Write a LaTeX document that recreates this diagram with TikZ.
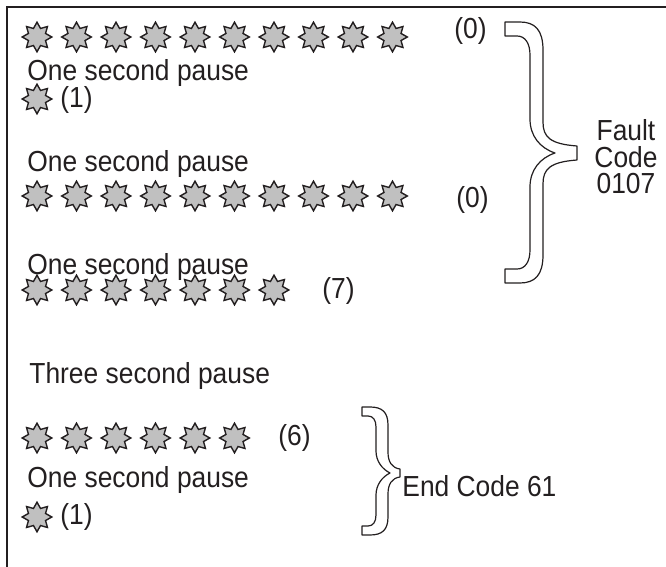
\documentclass[tikz,border=0pt]{standalone}
\usepackage{fontspec}
\setmainfont{Liberation Sans}[FakeStretch=0.91]
\usetikzlibrary{shapes.geometric}

\definecolor{ink}{RGB}{35,31,32}
\definecolor{flashgray}{RGB}{192,192,192}

\begin{document}
\begin{tikzpicture}[
    x=0.5pt, y=-0.5pt,
    flash/.style={star, star points=8, star point ratio=1.6, draw=ink,
                  fill=flashgray, line width=0.7pt, minimum size=14.8pt,
                  inner sep=0pt},
    lbl/.style={text=ink, inner sep=0pt, font=\fontsize{14.5}{13.2}\selectfont},
    brace/.style={draw=ink, fill=white, line width=0.6pt, line join=round}
]
\useasboundingbox (0,0) rectangle (666,567);

% frame (only top and left edges show)
\draw[ink, line width=1pt] (7,567) -- (7,7) -- (666,7);

% fault code 0107
\foreach \i in {1,...,10}
    \node[flash] (a\i) at ({37+39.5*(\i-1)},37) {};
\node[lbl, anchor=west]      (cnta)   at (454,31)  {(0)};
\node[lbl, anchor=base west] (pausea) at (27,81)   {One second pause};
\node[flash]                 (b1)     at (37,99)   {};
\node[lbl, anchor=west]      (cntb)   at (60,100)  {(1)};
\node[lbl, anchor=base west] (pauseb) at (27,172)  {One second pause};
\foreach \i in {1,...,10}
    \node[flash] (c\i) at ({37+39.5*(\i-1)},196) {};
\node[lbl, anchor=west]      (cntc)   at (456,200) {(0)};
\node[lbl, anchor=base west] (pausec) at (27,275)  {One second pause};
\foreach \i in {1,...,7}
    \node[flash] (d\i) at ({37+39.5*(\i-1)},290) {};
\node[lbl, anchor=west]      (cntd)   at (322,291) {(7)};

% big brace
\begin{scope}[shift={(505,22)}]
\draw[brace] (0,0) -- (15,0) .. controls (30,0) and (38,8) .. (38,28)
    -- (38,100) .. controls (38,115) and (45,122) .. (72,124)
    -- (72,138) .. controls (45,140) and (38,147) .. (38,162)
    -- (38,233) .. controls (38,253) and (30,261) .. (15,261)
    -- (0,261) -- (0,247) -- (12,247) .. controls (20,247) and (25,240) .. (25,228)
    -- (25,165) .. controls (25,148) and (35,136) .. (50,131)
    .. controls (35,126) and (25,114) .. (25,97)
    -- (25,33) .. controls (25,21) and (20,14) .. (12,14) -- (0,14) -- cycle;
\end{scope}
\node[lbl, align=center] (fault) at (626,157) {Fault\\Code\\0107};

% end code 61
\node[lbl, anchor=base west] (pauset) at (29,384)  {Three second pause};
\foreach \i in {1,...,6}
    \node[flash] (e\i) at ({37+39.5*(\i-1)},438) {};
\node[lbl, anchor=west]      (cnte)   at (278,438) {(6)};
\node[lbl, anchor=base west] (pausee) at (27,488)  {One second pause};
\node[flash]                 (f1)     at (37,517)  {};
\node[lbl, anchor=west]      (cntf)   at (60,517)  {(1)};

% small brace
\begin{scope}[shift={(362,407)}]
\draw[brace] (0,0) -- (8,0) .. controls (20,0) and (26,5) .. (26,18)
    -- (26,45) .. controls (26,55) and (30,61) .. (38,62)
    -- (38,70) .. controls (30,71) and (26,77) .. (26,87)
    -- (26,110) .. controls (26,123) and (20,128) .. (8,128)
    -- (0,128) -- (0,119) -- (6,119) .. controls (11,119) and (14,115) .. (14,108)
    -- (14,88) .. controls (14,78) and (20,70) .. (28,66)
    .. controls (20,62) and (14,54) .. (14,44)
    -- (14,20) .. controls (14,13) and (11,9) .. (6,9) -- (0,9) -- cycle;
\end{scope}
\node[lbl, anchor=base west] (endc) at (402,497) {End Code 61};
\end{tikzpicture}
\end{document}
